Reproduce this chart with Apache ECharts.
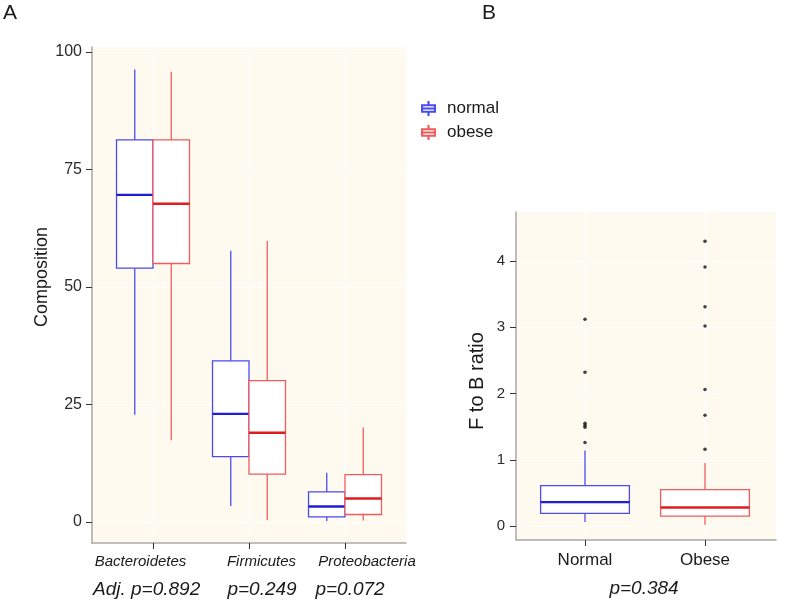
<!DOCTYPE html>
<html>
<head>
<meta charset="utf-8">
<title>Composition boxplots</title>
<script src="https://cdn.jsdelivr.net/npm/echarts@6/dist/echarts.min.js"></script>
<style>
  html, body { margin: 0; padding: 0; background: #fff; }
  #chart { width: 786px; height: 604px; }
</style>
</head>
<body>
<div id="chart"></div>
<script>
// ---- data ----
// panel A: phylum composition, each row = [min, Q1, median, Q3, max]
const phyla = ['Bacteroidetes', 'Firmicutes', 'Proteobacteria'];
const normalA = [
  [22.8, 54.0, 69.6, 81.3, 96.3],
  [3.4, 13.9, 23.0, 34.3, 57.7],
  [0.2, 1.1, 3.3, 6.4, 10.5]
];
const obeseA = [
  [17.4, 55.0, 67.7, 81.3, 95.8],
  [0.4, 10.2, 19.0, 30.1, 59.8],
  [0.3, 1.6, 5.0, 10.1, 20.1]
];
const pValuesA = ['Adj. p=0.892', 'p=0.249', 'p=0.072'];
const yTicksA = [0, 25, 50, 75, 100];

// panel B: F to B ratio
const groupsB = ['Normal', 'Obese'];
const boxB = [
  [0.06, 0.19, 0.36, 0.61, 1.14],
  [0.02, 0.15, 0.28, 0.55, 0.95]
];
const outliersNormal = [3.12, 2.32, 1.55, 1.52, 1.49, 1.26];
const outliersObese = [4.30, 3.91, 3.31, 3.02, 2.06, 1.67, 1.16];
const pValueB = 'p=0.384';
const yTicksB = [0, 1, 2, 3, 4];

// ---- style ----
const FONT = '"Liberation Sans", Arial, Helvetica, sans-serif';
const PANEL_BG = '#fefaef';
const AXIS_GRAY = '#a9a9a9';
const TXT = '#1a1a1a';
const BLUE = '#4b4bf0', BLUE_MED = '#1e1ed8';
const RED = '#f05c5c', RED_MED = '#e01c1c';

// layout (pixels) of the two panels
const A = { left: 92, top: 47, width: 314, height: 496, dataTop: 52, dataH: 470, boxLeft: 105, boxW: 288 };
const B = { left: 516, top: 212, width: 260, height: 328, dataTop: 261, dataH: 265, boxLeft: 525, boxW: 240 };

// value range of the whole panel given the labelled tick range
function panelRange(p, lo, hi) {
  const perPx = (hi - lo) / p.dataH;
  return {
    min: lo - (p.top + p.height - (p.dataTop + p.dataH)) * perPx,
    max: hi + (p.dataTop - p.top) * perPx
  };
}
const rangeA = panelRange(A, yTicksA[0], yTicksA[yTicksA.length - 1]);
const rangeB = panelRange(B, yTicksB[0], yTicksB[yTicksB.length - 1]);

// ggplot-like box: white fill, thick median
function boxRenderer(shift, width, lineColor, medColor) {
  return function (params, api) {
    const i = api.value(0);
    const band = api.size([1, 0])[0];
    const cx = api.coord([i, 0])[0] + shift * band;
    const hw = width * band / 2;
    const y = [1, 2, 3, 4, 5].map(k => api.coord([i, api.value(k)])[1]);
    const line = { stroke: lineColor, lineWidth: 1.3 };
    return {
      type: 'group',
      children: [
        { type: 'line', shape: { x1: cx, y1: y[4], x2: cx, y2: y[3] }, style: line },
        { type: 'line', shape: { x1: cx, y1: y[1], x2: cx, y2: y[0] }, style: line },
        { type: 'rect', shape: { x: cx - hw, y: y[3], width: 2 * hw, height: y[1] - y[3] },
          style: { fill: '#fff', stroke: lineColor, lineWidth: 1.3 } },
        { type: 'line', shape: { x1: cx - hw, y1: y[2], x2: cx + hw, y2: y[2] },
          style: { stroke: medColor, lineWidth: 2.4 } }
      ]
    };
  };
}
const toRows = (stats, first) => stats.map((s, i) => [first + i].concat(s));

// legend glyph: small box with whiskers and median
const BOX_ICON = 'path://M6 0H8V3H6Z M0 3H14V11H0Z M2 5V9H12V5Z M2 6H12V8H2Z M6 11H8V14H6Z';

// hidden category axis used only for white vertical grid lines at the box centres
function centreLines(gridIndex, n) {
  return {
    type: 'category', gridIndex: gridIndex, boundaryGap: false,
    data: Array.from({ length: 2 * n + 1 }, (_, i) => 'g' + i),
    axisLine: { show: false, onZero: false }, axisTick: { show: false }, axisLabel: { show: false },
    splitLine: { show: true, interval: idx => idx % 2 === 1, lineStyle: { color: '#ffffff', width: 1 } }
  };
}
const bgAxis = gi => ({
  type: 'value', gridIndex: gi, min: 0, max: 1,
  axisLine: { show: true, onZero: false, lineStyle: { color: AXIS_GRAY, width: 1.5 } },
  axisTick: { show: false }, axisLabel: { show: false }, splitLine: { show: false }
});
const hiddenAxis = (gi, min, max) => ({ type: 'value', gridIndex: gi, min: min, max: max, show: false });

const chart = echarts.init(document.getElementById('chart'));

const option = {
  animation: false,
  textStyle: { fontFamily: FONT },
  grid: [
    { left: A.left, top: A.top, width: A.width, height: A.height, show: true, backgroundColor: PANEL_BG, borderWidth: 0 },
    { left: A.left, top: A.dataTop, width: A.width, height: A.dataH },
    { left: A.boxLeft, top: A.top, width: A.boxW, height: A.height },
    { left: B.left, top: B.top, width: B.width, height: B.height, show: true, backgroundColor: PANEL_BG, borderWidth: 0 },
    { left: B.left, top: B.dataTop, width: B.width, height: B.dataH },
    { left: B.boxLeft, top: B.top, width: B.boxW, height: B.height }
  ],
  xAxis: [
    bgAxis(0),
    hiddenAxis(1, 0, 1),
    {
      type: 'category', gridIndex: 2, data: phyla, boundaryGap: true,
      axisLine: { show: false, onZero: false },
      axisTick: { show: true, alignWithLabel: true, length: 6, lineStyle: { color: '#333' } },
      axisLabel: {
        interval: 0, margin: 11, color: TXT, fontSize: 15, fontStyle: 'italic',
        formatter: (v, i) => '{s' + i + '|' + v + '}',
        rich: {
          s0: { fontSize: 15, fontStyle: 'italic', color: TXT, padding: [0, 25, 0, 0] },
          s1: { fontSize: 15, fontStyle: 'italic', color: TXT, padding: [0, 0, 0, 25] },
          s2: { fontSize: 15, fontStyle: 'italic', color: TXT, padding: [0, 0, 0, 44] }
        }
      },
      splitLine: { show: false }
    },
    centreLines(2, phyla.length),
    bgAxis(3),
    hiddenAxis(4, 0, 1),
    {
      type: 'category', gridIndex: 5, data: groupsB, boundaryGap: true,
      axisLine: { show: false, onZero: false },
      axisTick: { show: true, alignWithLabel: true, length: 6, lineStyle: { color: '#333' } },
      axisLabel: { interval: 0, margin: 12, color: TXT, fontSize: 17 },
      splitLine: { show: false }
    },
    centreLines(5, groupsB.length)
  ],
  yAxis: [
    bgAxis(0),
    {
      type: 'value', gridIndex: 1, min: yTicksA[0], max: yTicksA[yTicksA.length - 1], interval: yTicksA[1] - yTicksA[0],
      name: 'Composition', nameLocation: 'middle', nameRotate: 90, nameGap: 38,
      nameTextStyle: { fontSize: 18, color: TXT, padding: [0, 0, 0, 20] },
      axisLine: { show: false, onZero: false },
      axisTick: { show: true, length: 6, lineStyle: { color: '#333' } },
      axisLabel: { margin: 10, fontSize: 16, color: '#2a2a2a' },
      splitLine: { show: true, lineStyle: { color: '#ffffff', width: 1 } }
    },
    hiddenAxis(2, rangeA.min, rangeA.max),
    bgAxis(3),
    {
      type: 'value', gridIndex: 4, min: yTicksB[0], max: yTicksB[yTicksB.length - 1], interval: yTicksB[1] - yTicksB[0],
      name: 'F to B ratio', nameLocation: 'middle', nameRotate: 90, nameGap: 29,
      nameTextStyle: { fontSize: 20, color: TXT, padding: [0, 0, 0, 25] },
      axisLine: { show: false, onZero: false },
      axisTick: { show: true, length: 6, lineStyle: { color: '#333' } },
      axisLabel: { margin: 11, fontSize: 15, color: '#2a2a2a' },
      splitLine: { show: true, lineStyle: { color: '#ffffff', width: 1 } }
    },
    hiddenAxis(5, rangeB.min, rangeB.max)
  ],
  legend: {
    orient: 'vertical', left: 416, top: 95,
    itemWidth: 15, itemHeight: 18, itemGap: 7, selectedMode: false,
    textStyle: { fontSize: 17, color: TXT, padding: [0, 0, 0, 6] },
    data: [
      { name: 'normal', icon: BOX_ICON, itemStyle: { color: BLUE, borderWidth: 0 } },
      { name: 'obese', icon: BOX_ICON, itemStyle: { color: RED, borderWidth: 0 } }
    ]
  },
  series: [
    {
      name: 'normal', type: 'custom', xAxisIndex: 2, yAxisIndex: 2,
      itemStyle: { color: BLUE },
      encode: { x: 0, y: [1, 2, 3, 4, 5] },
      renderItem: boxRenderer(-0.19, 0.38, BLUE, BLUE_MED),
      data: toRows(normalA, 0)
    },
    {
      name: 'obese', type: 'custom', xAxisIndex: 2, yAxisIndex: 2,
      itemStyle: { color: RED },
      encode: { x: 0, y: [1, 2, 3, 4, 5] },
      renderItem: boxRenderer(0.19, 0.38, RED, RED_MED),
      data: toRows(obeseA, 0)
    },
    {
      name: 'ratio normal', type: 'custom', xAxisIndex: 6, yAxisIndex: 5,
      encode: { x: 0, y: [1, 2, 3, 4, 5] },
      renderItem: boxRenderer(0, 0.74, BLUE, BLUE_MED),
      data: toRows([boxB[0]], 0)
    },
    {
      name: 'ratio obese', type: 'custom', xAxisIndex: 6, yAxisIndex: 5,
      encode: { x: 0, y: [1, 2, 3, 4, 5] },
      renderItem: boxRenderer(0, 0.74, RED, RED_MED),
      data: toRows([boxB[1]], 1)
    },
    {
      name: 'outliers', type: 'scatter', xAxisIndex: 6, yAxisIndex: 5,
      symbolSize: 3.5, itemStyle: { color: '#111' }, silent: true,
      data: outliersNormal.map(v => [0, v]).concat(outliersObese.map(v => [1, v]))
    }
  ],
  graphic: [
    { type: 'text', x: 3, y: 3, style: { text: 'A', fontSize: 21, fill: TXT, fontFamily: FONT } },
    { type: 'text', x: 482, y: 3, style: { text: 'B', fontSize: 21, fill: TXT, fontFamily: FONT } },
    { type: 'text', x: 93, y: 590, style: { text: pValuesA[0], fontSize: 19, fontStyle: 'italic', fill: TXT, fontFamily: FONT, align: 'left', verticalAlign: 'middle' } },
    { type: 'text', x: 262, y: 590, style: { text: pValuesA[1], fontSize: 19, fontStyle: 'italic', fill: TXT, fontFamily: FONT, align: 'center', verticalAlign: 'middle' } },
    { type: 'text', x: 350, y: 590, style: { text: pValuesA[2], fontSize: 19, fontStyle: 'italic', fill: TXT, fontFamily: FONT, align: 'center', verticalAlign: 'middle' } },
    { type: 'text', x: 644, y: 589, style: { text: pValueB, fontSize: 19, fontStyle: 'italic', fill: TXT, fontFamily: FONT, align: 'center', verticalAlign: 'middle' } }
  ]
};

chart.setOption(option);
window.addEventListener('resize', () => chart.resize());
</script>
</body>
</html>
